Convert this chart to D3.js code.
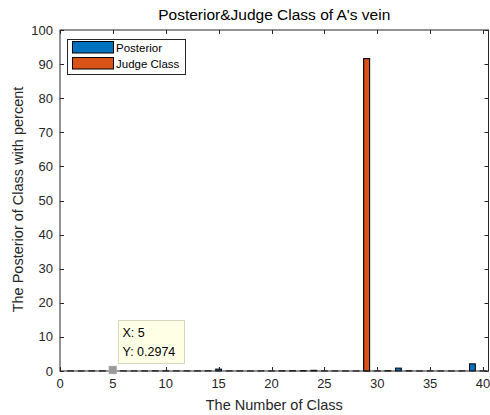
<!DOCTYPE html>
<html>
<head>
<meta charset="utf-8">
<script src="https://cdn.jsdelivr.net/npm/d3@7/dist/d3.min.js"></script>
<style>
  html, body { margin: 0; padding: 0; background: #fff; }
  svg { display: block; font-family: "Liberation Sans", Arial, Helvetica, sans-serif; }
</style>
</head>
<body>
<svg id="chart" width="490" height="415"></svg>
<script>
// Class indices 1..40
const classes = d3.range(1, 41);

// Posterior probability (percent) for each class
const posterior = [
  0.05, 0.04, 0.05, 0.05, 0.2974, 0.04, 0.03, 0.04, 0.05, 0.05,
  0.03, 0.04, 0.04, 0.05, 0.55, 0.04, 0.04, 0.03, 0.04, 0.04,
  0.08, 0.10, 0.12, 0.20, 0.04, 0.03, 0.03, 0.03, 91.6, 0.04,
  0.10, 0.85, 0.08, 0.03, 0.03, 0.03, 0.03, 0.04, 2.1, 0.03
];

// Judged class: only the winning class carries a value
const judgeClass = [
  0, 0, 0, 0, 0, 0, 0, 0, 0, 0,
  0, 0, 0, 0, 0, 0, 0, 0, 0, 0,
  0, 0, 0, 0, 0, 0, 0, 0, 91.6, 0,
  0, 0, 0, 0, 0, 0, 0, 0, 0, 0
];

const xTicks = [0, 5, 10, 15, 20, 25, 30, 35, 40];
const yTicks = [0, 10, 20, 30, 40, 50, 60, 70, 80, 90, 100];

const seriesNames = ["Posterior", "Judge Class"];
const seriesColors = ["#0072BD", "#D95319"];

// Data tip on class 5
const tipClass = 5;
const tipValue = 0.2974;

(function draw() {
  const svg = d3.select("#chart");
  const L = 60, R = 488.5, T = 30, B = 371;
  const textColor = "#262626";

  const x = d3.scaleLinear().domain([0, 40.52]).range([L, R]);
  const y = d3.scaleLinear().domain([0, 100]).range([B, T]);
  const barW = (x(1) - x(0)) * 0.55;

  // Bars
  [posterior, judgeClass].forEach((vals, si) => {
    svg.append("g").selectAll("rect")
      .data(classes.map((c, i) => ({ c, v: vals[i] })))
      .join("rect")
      .attr("x", d => x(d.c) - barW / 2)
      .attr("width", barW)
      .attr("y", d => y(d.v))
      .attr("height", d => Math.max(0, y(0) - y(d.v)))
      .attr("fill", seriesColors[si])
      .attr("stroke", "#000")
      .attr("stroke-width", 1);
  });

  // Axes box with inward ticks on all sides
  const tickLen = 4;
  const axisG = svg.append("g").attr("stroke", textColor).attr("stroke-width", 1).attr("fill", "none");
  axisG.append("rect")
    .attr("x", L).attr("y", T)
    .attr("width", R - L).attr("height", B - T);

  xTicks.forEach(t => {
    const px = Math.round(x(t)) + 0.5;
    axisG.append("line").attr("x1", px).attr("x2", px).attr("y1", B).attr("y2", B - tickLen);
    axisG.append("line").attr("x1", px).attr("x2", px).attr("y1", T).attr("y2", T + tickLen);
  });
  yTicks.forEach(t => {
    const py = Math.round(y(t)) + 0.5;
    axisG.append("line").attr("x1", L).attr("x2", L + tickLen).attr("y1", py).attr("y2", py);
    axisG.append("line").attr("x1", R).attr("x2", R - tickLen).attr("y1", py).attr("y2", py);
  });

  // Tick labels
  svg.append("g").selectAll("text")
    .data(xTicks).join("text")
    .attr("x", d => x(d)).attr("y", B + 17)
    .attr("text-anchor", "middle")
    .attr("font-size", 13).attr("fill", textColor)
    .text(d => d);

  svg.append("g").selectAll("text")
    .data(yTicks).join("text")
    .attr("x", L - 7).attr("y", d => y(d) + 4.5)
    .attr("text-anchor", "end")
    .attr("font-size", 13).attr("fill", textColor)
    .text(d => d);

  // Title and axis labels
  svg.append("text")
    .attr("x", (L + R) / 2).attr("y", 20)
    .attr("text-anchor", "middle").attr("font-size", 15.5).attr("fill", "#000")
    .text("Posterior&Judge Class of A's vein");

  svg.append("text")
    .attr("x", (L + R) / 2).attr("y", 410)
    .attr("text-anchor", "middle").attr("font-size", 14.5).attr("fill", textColor)
    .text("The Number of Class");

  svg.append("text")
    .attr("transform", `translate(23, ${(T + B) / 2 - 1}) rotate(-90)`)
    .attr("text-anchor", "middle").attr("font-size", 14.5).attr("fill", textColor)
    .text("The Posterior of Class with percent");

  // Legend
  const lg = svg.append("g");
  lg.append("rect").attr("x", 67.5).attr("y", 39.5).attr("width", 118).attr("height", 35)
    .attr("fill", "#fff").attr("stroke", textColor).attr("stroke-width", 1);
  seriesNames.forEach((name, i) => {
    const yy = 41.5 + i * 16;
    lg.append("rect").attr("x", 72.5).attr("y", yy).attr("width", 41).attr("height", 11.5)
      .attr("fill", seriesColors[i]).attr("stroke", "#000").attr("stroke-width", 1);
    lg.append("text").attr("x", 116).attr("y", yy + 10)
      .attr("font-size", 11.5).attr("fill", "#000").text(name);
  });

  // Data tip
  const tx = x(tipClass), ty = y(tipValue);
  svg.append("rect").attr("x", tx - 4).attr("y", ty - 4).attr("width", 8).attr("height", 8)
    .attr("fill", "#9a9a9a").attr("stroke", "#c8c8c8").attr("stroke-width", 0.5);
  const tip = svg.append("g");
  tip.append("rect").attr("x", 118.5).attr("y", 320.5).attr("width", 66).attr("height", 43)
    .attr("fill", "#FFFFE6").attr("stroke", "#D8D8C0").attr("stroke-width", 1);
  tip.append("text").attr("x", 122.5).attr("y", 337).attr("font-size", 12.5).attr("fill", "#000")
    .text("X: " + tipClass);
  tip.append("text").attr("x", 122.5).attr("y", 355.5).attr("font-size", 12.5).attr("fill", "#000")
    .text("Y: " + tipValue);
})();
</script>
</body>
</html>
